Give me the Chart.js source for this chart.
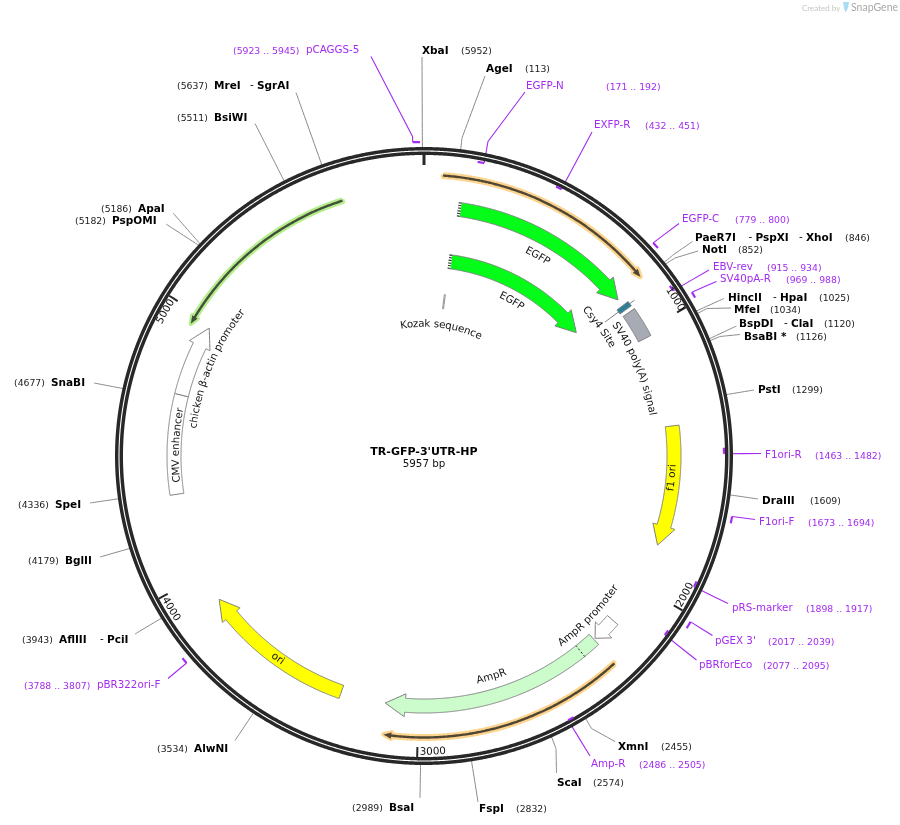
<!DOCTYPE html>
<html>
<head>
<meta charset="utf-8">
<title>TR-GFP-3'UTR-HP</title>
<script src="https://cdn.jsdelivr.net/npm/chart.js@4/dist/chart.umd.min.js"></script>
<style>
  html, body { margin: 0; padding: 0; background: #fff; }
  canvas { display: block; }
</style>
</head>
<body>
<canvas id="mapChart" width="900" height="825"></canvas>
<script>
// Plasmid data, everything in base pairs
const plasmidName = "TR-GFP-3'UTR-HP";
const plasmidLength = 5957;
const rulerTicks = [1000, 2000, 3000, 4000, 5000];

const siteNames = ["XbaI", "AgeI", "PaeR7I - PspXI - XhoI", "NotI", "HincII - HpaI", "MfeI", "BspDI - ClaI", "BsaBI *",
  "PstI", "DraIII", "XmnI", "ScaI", "FspI", "BsaI", "AlwNI", "AflIII - PciI", "BglII", "SpeI", "SnaBI",
  "PspOMI", "ApaI", "BsiWI", "MreI - SgrAI"];
const sitePositions = [5952, 113, 846, 852, 1025, 1034, 1120, 1126,
  1299, 1609, 2455, 2574, 2832, 2989, 3534, 3943, 4179, 4336, 4677,
  5182, 5186, 5511, 5637];

const primerNames = ["pCAGGS-5", "EGFP-N", "EXFP-R", "EGFP-C", "EBV-rev", "SV40pA-R", "F1ori-R", "F1ori-F",
  "pRS-marker", "pGEX 3'", "pBRforEco", "Amp-R", "pBR322ori-F"];
const primerStarts = [5923, 171, 432, 779, 915, 969, 1463, 1673, 1898, 2017, 2077, 2486, 3788];
const primerEnds = [5945, 192, 451, 800, 934, 988, 1482, 1694, 1917, 2039, 2095, 2505, 3807];

const featureNames = ["EGFP", "EGFP", "Kozak sequence", "Csy4 Site", "SV40 poly(A) signal", "f1 ori", "AmpR promoter",
  "AmpR", "ori", "CMV enhancer", "chicken β-actin promoter"];
const featureStarts = [131, 122, 119, 875, 910, 1375, 2168, 2270, 3298, 4322, 4701];
const featureEnds = [847, 844, 125, 895, 1026, 1835, 2264, 3126, 3889, 4701, 4977];

const thinArcStarts = [64, 2274, 5664];
const thinArcEnds = [834, 3116, 4957];

// Drawing layout
const cx = 424, cy = 456;
const ringRadius = 305;

// one entry per feature: track radius, half width, colour, head length (0 = box), label angle and radius
const featureStyle = [
  { r: 249, fill: "#05fc18", head: 20, la: 29.6, lr: 230 },
  { r: 196, fill: "#05fc18", head: 20, la: 29.5, lr: 178 },
  { r: 155.5, half: 7.5, fill: "#ffffff", head: 0, la: 7.7, lr: 132 },
  { r: 249, fill: "#2b7f96", head: 0, la: 53.6, lr: 218 },
  { r: 250, fill: "#a6abb4", head: 0, la: 67.5, lr: 232 },
  { r: 250, fill: "#ffff00", head: 20, la: 95, lr: 249 },
  { r: 250, fill: "#ffffff", head: 12, la: 134.2, lr: 232 },
  { r: 250, fill: "#ccfccc", head: 20, la: 163, lr: 231 },
  { r: 250, fill: "#ffff00", head: 20, la: 215.8, lr: 250 },
  { r: 250, fill: "#ffffff", head: 0, la: 272.5, lr: 248 },
  { r: 250, fill: "#ffffff", head: 20, la: 292.8, lr: 232 }
];
const thinArcStyle = [
  { r: 281, glow: "#fdd48e", line: "#4f4634" },
  { r: 281.5, glow: "#fdd48e", line: "#4f4634" },
  { r: 268, glow: "#b5ee8c", line: "#45503b" }
];

// name x for each part of the row, number x, row y, leader elbow points
const siteLayout = [
  { nx: [422], px: 461, y: 50, path: [[422, 57]] },
  { nx: [486], px: 525, y: 68, path: [[462, 138], [485, 76]] },
  { nx: [695, 755.5, 806], px: 845, y: 237, path: [[673, 255], [692.5, 241.5]] },
  { nx: [702], px: 738, y: 249, path: [[675, 258], [698, 251]] },
  { nx: [728, 780], px: 819, y: 297, path: [[724, 298.5]] },
  { nx: [734], px: 770, y: 309, path: [[707, 308.5], [731, 308]] },
  { nx: [739, 791], px: 824, y: 323, path: [[736.5, 326]] },
  { nx: [744], px: 796, y: 336, path: [[720, 336.5], [740, 334.5]] },
  { nx: [758], px: 792, y: 389, path: [[754, 390]] },
  { nx: [762], px: 810, y: 500, path: [[758, 499]] },
  { nx: [618], px: 661, y: 746, path: [[591.5, 728.5], [615, 741.5]] },
  { nx: [557], px: 593, y: 782, path: [[556, 748.5], [556.5, 773]] },
  { nx: [479], px: 516, y: 808, path: [[478, 802]] },
  { nx: [389], px: 352, y: 807, path: [[420, 798]] },
  { nx: [194], px: 157, y: 748, path: [[235, 740.5]] },
  { nx: [59, 107], px: 22, y: 639, path: [[135, 634]] },
  { nx: [65], px: 28, y: 560, path: [[100, 557]] },
  { nx: [55], px: 18, y: 504, path: [[90, 503]] },
  { nx: [51], px: 14, y: 382, path: [[94, 383]] },
  { nx: [112], px: 75, y: 220, path: [[166, 224]] },
  { nx: [138], px: 101, y: 208, path: [[173, 213]] },
  { nx: [214], px: 177, y: 117, path: [[255, 123.5]] },
  { nx: [214, 257], px: 177, y: 85, path: [[296, 92.5]] }
];
const primerLayout = [
  { r: 314, nx: 306, px: 233, y: 50, path: [[412.5, 136.5], [371, 56.5]] },
  { r: 299, nx: 526, px: 606, y: 86, path: [[488, 141.5], [525, 92]] },
  { r: 300, nx: 594, px: 645, y: 125, path: [[592, 132]] },
  { r: 313, nx: 682, px: 735, y: 219, path: [[679, 223.5]] },
  { r: 299, nx: 713, px: 767, y: 267, path: [[709, 270]] },
  { r: 314, nx: 720, px: 786, y: 279, path: [[716.5, 281.5]] },
  { r: 300, nx: 765, px: 815, y: 455, path: [[761, 453.5]] },
  { r: 314, nx: 759, px: 808, y: 522, path: [[755, 519.5]] },
  { r: 300, nx: 732, px: 806, y: 608, path: [[728, 603.5]] },
  { r: 314, nx: 715, px: 768, y: 641, path: [[712.5, 635.5]] },
  { r: 300, nx: 699, px: 763, y: 665, path: [[696.5, 660]] },
  { r: 301, nx: 591, px: 639, y: 764, path: [[590, 756]] },
  { r: 315, nx: 97, px: 24, y: 685, path: [[168, 678.5]] }
];
const rulerLabelAngles = [58, 118, 178.3, 238.8, 299.2];

const purple = "#a32cf0";
const datasets = [];

// bp + radius -> point in page units (the x/y scales below run 0-900 and 0-825)
function polar(bp, r) {
  const t = bp / plasmidLength * 2 * Math.PI;
  return { x: cx + r * Math.sin(t), y: cy - r * Math.cos(t) };
}
function arc(from, to, r) {
  const n = Math.max(1, Math.ceil(Math.abs(to - from) / 6));
  const pts = [];
  for (let i = 0; i <= n; i++) pts.push(polar(from + (to - from) * i / n, r));
  return pts;
}
function arrowShape(start, tip, r, half, wing, head) {
  if (!head) {
    const a = arc(start, tip, r + half), b = arc(tip, start, r - half);
    return a.concat(b, [a[0]]);
  }
  const dir = tip > start ? 1 : -1;
  const neck = tip - dir * head / r / (2 * Math.PI) * plasmidLength;
  const a = arc(start, neck, r + half), b = arc(neck, start, r - half);
  return a.concat([polar(neck, r + wing), polar(tip, r), polar(neck, r - wing)], b, [a[0]]);
}
// tiny tension keeps Chart.js off its per-pixel fast path, which makes arcs jagged
function addLine(data, color, width, dash) {
  datasets.push({ data, showLine: true, fill: false, borderColor: color, borderWidth: width,
    borderDash: dash || [], pointRadius: 0, tension: 0.0001, borderCapStyle: "butt", clip: false });
}
function addShape(data, fill, border, width, join) {
  datasets.push({ data, showLine: true, fill: "shape", backgroundColor: fill, borderColor: border,
    borderWidth: width, pointRadius: 0, tension: 0.0001, borderJoinStyle: join || "miter", clip: false });
}
function toPoints(path) {
  return path.map(p => ({ x: p[0], y: p[1] }));
}

// leader lines go under the ring
sitePositions.forEach((bp, i) => {
  addLine([polar(bp, 306)].concat(toPoints(siteLayout[i].path)), "#8a8a8a", 1);
});
primerNames.forEach((name, i) => {
  const lay = primerLayout[i];
  const end = lay.r > 305 ? primerStarts[i] : primerEnds[i];
  addLine([polar(end, lay.r)].concat(toPoints(lay.path)), purple, 1.1);
});

// backbone
addLine(arc(0, plasmidLength, ringRadius), "#282828", 8);
addLine(arc(0, plasmidLength, ringRadius), "#ffffff", 1.1);

// ruler
addLine([polar(0, 301), polar(0, 291)], "#282828", 3);
rulerTicks.forEach(bp => addLine([polar(bp, 301), polar(bp, 291)], "#282828", 2));

// primer ticks
primerNames.forEach((name, i) => {
  addLine(arc(primerStarts[i], primerEnds[i], primerLayout[i].r), purple, 2.2);
});

// thin arcs with glow
thinArcStarts.forEach((start, i) => {
  const st = thinArcStyle[i];
  addShape(arrowShape(start, thinArcEnds[i], st.r, 1.2, 3.2, 8), st.glow, st.glow, 4.5, "round");
  addShape(arrowShape(start, thinArcEnds[i], st.r, 1.2, 3.2, 8), st.line, st.line, 0);
});

// features
featureNames.forEach((name, i) => {
  const st = featureStyle[i];
  const half = st.half || 7, wing = 11.5;
  if (name === "Kozak sequence") {
    addLine([polar(featureStarts[i], st.r + half), polar(featureStarts[i], st.r - half)], "#777777", 0.8);
    addLine([polar(featureEnds[i], st.r + half), polar(featureEnds[i], st.r - half)], "#777777", 0.8);
    return;
  }
  if (name === "Csy4 Site") {
    addLine([polar((featureStarts[i] + featureEnds[i]) / 2, 225), polar((featureStarts[i] + featureEnds[i]) / 2, 262)], "#777777", 1);
  }
  addShape(arrowShape(featureStarts[i], featureEnds[i], st.r, half, wing, st.head), st.fill, "#7d7d7d", 1);
});

// dotted ends of the two EGFP arrows, dotted mark on AmpR
[[0, 249], [1, 196]].forEach(([i, r]) => {
  const bp = featureStarts[i] + 4;
  addLine([polar(bp, r + 7), polar(bp, r - 7)], "#ffffff", 3);
  addLine([polar(bp, r + 7), polar(bp, r - 7)], "#222222", 3, [1, 1.6]);
});
addLine([polar(2338, 257), polar(2338, 243)], "#222222", 1, [2, 2]);

function textAlongArc(ctx, chart, text, angleDeg, r, font, color) {
  ctx.font = font;
  ctx.fillStyle = color;
  ctx.textAlign = "center";
  ctx.textBaseline = "middle";
  const total = ctx.measureText(text).width;
  const flip = angleDeg > 90 && angleDeg < 270;
  const mid = angleDeg * Math.PI / 180;
  for (let i = 0; i < text.length; i++) {
    const before = ctx.measureText(text.slice(0, i)).width;
    const w = ctx.measureText(text[i]).width;
    const d = (before + w / 2 - total / 2) / r;
    const t = flip ? mid - d : mid + d;
    const x = chart.scales.x.getPixelForValue(cx + r * Math.sin(t));
    const y = chart.scales.y.getPixelForValue(cy - r * Math.cos(t));
    ctx.save();
    ctx.translate(x, y);
    ctx.rotate(flip ? t - Math.PI : t);
    ctx.fillText(text[i], 0, 0);
    ctx.restore();
  }
}

const mapText = {
  id: "mapText",
  afterDatasetsDraw(chart) {
    const ctx = chart.ctx;
    const X = v => chart.scales.x.getPixelForValue(v);
    const Y = v => chart.scales.y.getPixelForValue(v);
    const label = (text, x, y, font, color, align) => {
      ctx.font = font;
      ctx.fillStyle = color;
      ctx.textAlign = align || "left";
      ctx.textBaseline = "middle";
      ctx.fillText(text, X(x), Y(y + 0.8));
    };
    const bold = "bold 10.5px 'DejaVu Sans'";
    const normal = "10.3px 'DejaVu Sans'";
    const small = "9.3px 'DejaVu Sans'";

    ctx.save();
    siteNames.forEach((name, i) => {
      const lay = siteLayout[i];
      name.split(" - ").forEach((part, j) => {
        if (j > 0) label("-", lay.nx[j] - 7, lay.y, normal, "#000");
        label(part, lay.nx[j], lay.y, bold, "#000");
      });
      label("(" + sitePositions[i] + ")", lay.px, lay.y + 0.5, small, "#222");
    });
    primerNames.forEach((name, i) => {
      const lay = primerLayout[i];
      label(name, lay.nx, lay.y, normal, purple);
      label("(" + primerStarts[i] + " .. " + primerEnds[i] + ")", lay.px, lay.y + 0.5, small, purple);
    });
    featureNames.forEach((name, i) => {
      textAlongArc(ctx, chart, name, featureStyle[i].la, featureStyle[i].lr, "10.3px 'DejaVu Sans'", "#111");
    });
    rulerTicks.forEach((bp, i) => {
      textAlongArc(ctx, chart, String(bp), rulerLabelAngles[i], 296, "10.3px 'DejaVu Sans'", "#111");
    });
    label(plasmidName, cx, 451.5, "bold 11px 'DejaVu Sans'", "#000", "center");
    label(plasmidLength + " bp", cx, 464, normal, "#111", "center");

    // watermark
    label("Created by", 802, 7.5, "8px Lato", "#c6c6c6");
    label("SnapGene", 851, 7, "10.5px Lato", "#a8a8a8");
    ctx.fillStyle = "#a9dcf3";
    ctx.beginPath();
    ctx.moveTo(X(843), Y(2));
    ctx.lineTo(X(849), Y(2));
    ctx.lineTo(X(848), Y(8));
    ctx.lineTo(X(845.5), Y(12.5));
    ctx.lineTo(X(844), Y(8));
    ctx.closePath();
    ctx.fill();
    ctx.restore();
  }
};

// Chart draws the first dataset on top, the list above is in paint order
new Chart(document.getElementById("mapChart").getContext("2d"), {
  type: "scatter",
  data: { datasets: datasets.reverse() },
  options: {
    responsive: false,
    animation: false,
    devicePixelRatio: 1,
    layout: { padding: 0 },
    plugins: { legend: { display: false }, tooltip: { enabled: false } },
    scales: {
      x: { type: "linear", min: 0, max: 900, display: false },
      y: { type: "linear", min: 0, max: 825, reverse: true, display: false }
    }
  },
  plugins: [mapText]
});
</script>
</body>
</html>
